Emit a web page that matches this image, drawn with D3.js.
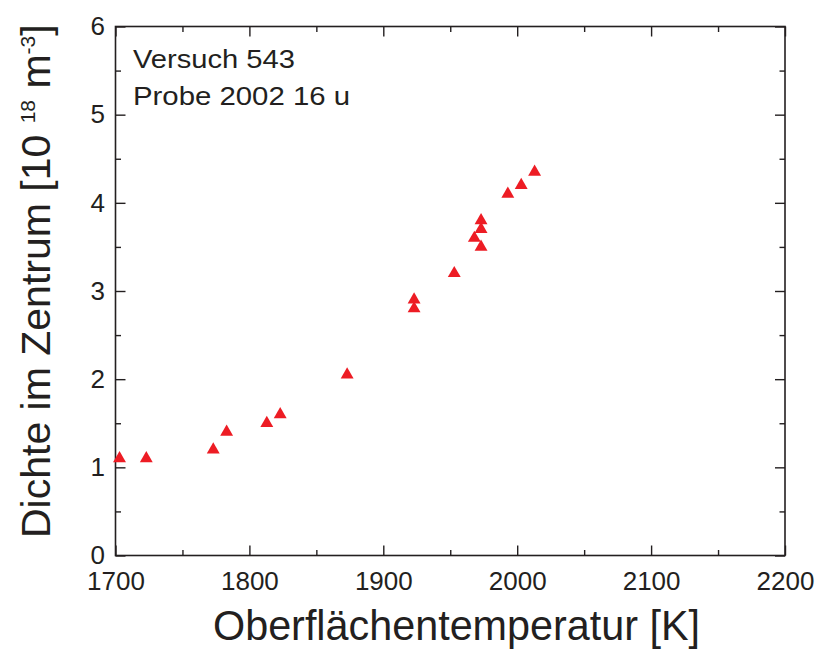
<!DOCTYPE html>
<html>
<head>
<meta charset="utf-8">
<script src="https://cdn.jsdelivr.net/npm/d3@7/dist/d3.min.js"></script>
<style>
  html, body { margin: 0; padding: 0; background: #fff; }
  svg { display: block; font-family: "Liberation Sans", Arial, Helvetica, sans-serif; }
</style>
</head>
<body>
<svg id="chart" width="819" height="649"></svg>
<script>
// Surface temperature [K] and central density [10^18 m^-3]
const temperature = [1703, 1723, 1773, 1783, 1813, 1823, 1873, 1923, 1923, 1953, 1968, 1973, 1973, 1973, 1993, 2003, 2013];
const density     = [1.1, 1.1, 1.2, 1.4, 1.5, 1.6, 2.05, 2.9, 2.8, 3.2, 3.6, 3.8, 3.7, 3.5, 4.1, 4.2, 4.35];

const xMajor = [1700, 1800, 1900, 2000, 2100, 2200];
const xMinor = [1750, 1850, 1950, 2050, 2150];
const yMajor = [0, 1, 2, 3, 4, 5, 6];
const yMinor = [0.5, 1.5, 2.5, 3.5, 4.5, 5.5];

const notes = ["Versuch 543", "Probe 2002 16 u"];

const ink = "#231f20";
const markColor = "#ed1c24";

const L = 115.5, R = 785, T = 26.5, B = 555.5;
const x = d3.scaleLinear().domain([1700, 2200]).range([L, R]);
const y = d3.scaleLinear().domain([0, 6]).range([B, T]);

const svg = d3.select("#chart");

function styleAxis(g) {
  g.select(".domain").remove();
  g.selectAll(".tick line").attr("stroke", ink).attr("stroke-width", 1.4);
  g.selectAll(".tick text").attr("fill", ink).style("font-size", "26px")
    .style("font-family", "'Liberation Sans', Arial, sans-serif");
}

// bottom axis with labels
svg.append("g").attr("transform", `translate(0,${B})`)
  .call(d3.axisBottom(x).tickValues(xMajor).tickSize(-10).tickPadding(16).tickFormat(d3.format("d")))
  .call(styleAxis);
svg.append("g").attr("transform", `translate(0,${B})`)
  .call(d3.axisBottom(x).tickValues(xMinor).tickSize(-5.5).tickFormat(""))
  .call(styleAxis);
// top axis (ticks only)
svg.append("g").attr("transform", `translate(0,${T})`)
  .call(d3.axisTop(x).tickValues(xMajor).tickSize(-10).tickFormat(""))
  .call(styleAxis);
svg.append("g").attr("transform", `translate(0,${T})`)
  .call(d3.axisTop(x).tickValues(xMinor).tickSize(-5.5).tickFormat(""))
  .call(styleAxis);
// left axis with labels
svg.append("g").attr("transform", `translate(${L},0)`)
  .call(d3.axisLeft(y).tickValues(yMajor).tickSize(-10).tickPadding(10.5).tickFormat(d3.format("d")))
  .call(styleAxis);
svg.append("g").attr("transform", `translate(${L},0)`)
  .call(d3.axisLeft(y).tickValues(yMinor).tickSize(-5.5).tickFormat(""))
  .call(styleAxis);
// right axis (ticks only)
svg.append("g").attr("transform", `translate(${R},0)`)
  .call(d3.axisRight(y).tickValues(yMajor).tickSize(-10).tickFormat(""))
  .call(styleAxis);
svg.append("g").attr("transform", `translate(${R},0)`)
  .call(d3.axisRight(y).tickValues(yMinor).tickSize(-5.5).tickFormat(""))
  .call(styleAxis);

// frame
svg.append("rect")
  .attr("x", L).attr("y", T).attr("width", R - L).attr("height", B - T)
  .attr("fill", "none").attr("stroke", ink).attr("stroke-width", 1.6);

// data markers
const tri = d3.symbol().type(d3.symbolTriangle).size(72);
svg.append("g").selectAll("path")
  .data(temperature.map((t, i) => [t, density[i]]))
  .join("path")
  .attr("d", tri)
  .attr("transform", d => `translate(${x(d[0])},${y(d[1])})`)
  .attr("fill", markColor);

// annotations
svg.append("g").selectAll("text")
  .data(notes)
  .join("text")
  .attr("x", 133)
  .attr("y", (d, i) => 68 + i * 37)
  .attr("fill", ink)
  .style("font-size", "26px")
  .attr("textLength", (d, i) => [162, 217][i])
  .attr("lengthAdjust", "spacingAndGlyphs")
  .text(d => d);

// x axis title
svg.append("text")
  .attr("x", 213).attr("y", 640)
  .attr("fill", ink)
  .style("font-size", "42px")
  .attr("textLength", 487)
  .attr("lengthAdjust", "spacingAndGlyphs")
  .text("Oberflächentemperatur [K]");

// y axis title with superscripts
const yt = svg.append("text")
  .attr("transform", "translate(50,538) rotate(-90)")
  .attr("fill", ink)
  .style("font-size", "41px");
yt.append("tspan").text("Dichte im Zentrum [10 ");
yt.append("tspan").attr("dy", -15).style("font-size", "21px").text("18");
yt.append("tspan").attr("dy", 15).text(" m");
yt.append("tspan").attr("dy", -15).style("font-size", "21px").text("-3");
yt.append("tspan").attr("dy", 15).text("]");
</script>
</body>
</html>
